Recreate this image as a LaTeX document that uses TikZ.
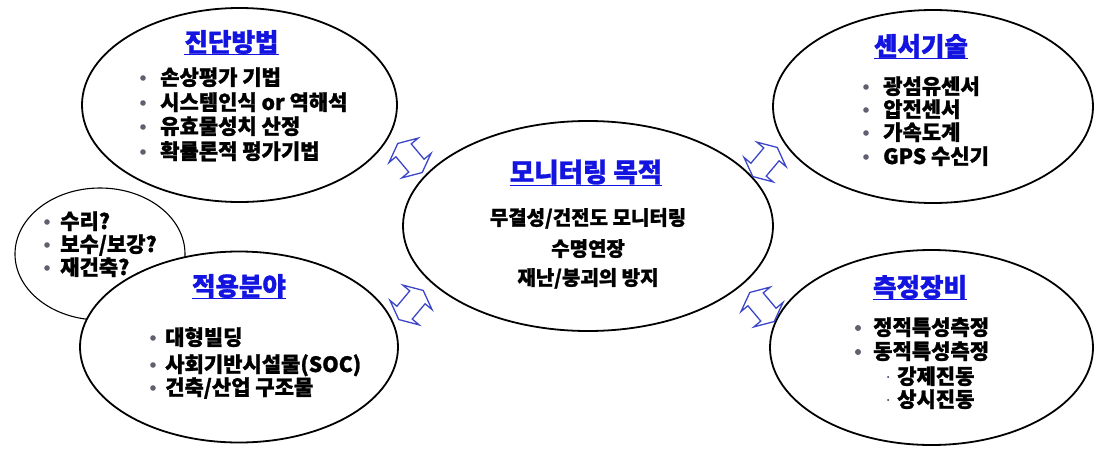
\documentclass[tikz,border=0pt]{standalone}
\usepackage{fontspec}
\setmainfont{Noto Sans CJK KR}[BoldFeatures={FakeBold=1.2}]
\usetikzlibrary{shapes.geometric}
\definecolor{ttlblue}{RGB}{20,20,225}
\definecolor{arrblue}{RGB}{60,70,200}
\definecolor{dotgray}{RGB}{95,95,110}
\definecolor{subdot}{RGB}{40,40,90}
\begin{document}
\begin{tikzpicture}[x=1pt,y=-1pt,
  bigell/.style={draw, ellipse, line width=1.8pt, fill=white, inner sep=0},
  smallell/.style={draw, ellipse, line width=1.1pt, inner sep=0},
  ttl/.style={font=\bfseries\fontsize{25.5pt}{29pt}\selectfont, text=ttlblue, inner sep=0},
  itm/.style={font=\bfseries\fontsize{21pt}{25pt}\selectfont, inner sep=0, anchor=base west},
  ctr/.style={font=\bfseries\fontsize{20pt}{24pt}\selectfont, inner sep=0, anchor=base},
  bulletdot/.style={fill=dotgray},
  arrowline/.style={draw=arrblue, line width=1.3pt, line join=miter},
  uline/.style={draw=ttlblue, line width=1.3pt},
  dblarrow/.pic={\path[arrowline] (-19,0) -- (-10,19) -- (-10,10) -- (10,10) -- (10,19) -- (19,0) -- (10,-19) -- (10,-10) -- (-10,-10) -- (-10,-19) -- cycle;}
]
\useasboundingbox[fill=white] (0,0) rectangle (1109,453);

% ellipses
\node[smallell, minimum width=170pt, minimum height=132pt] (rep) at (100,254) {};
\node[bigell, minimum width=315pt, minimum height=194pt] (diag) at (239.5,105) {};
\node[bigell, minimum width=318pt, minimum height=191pt] (appl) at (239,347) {};
\node[bigell, minimum width=370pt, minimum height=210pt] (goal) at (588,226) {};
\node[bigell, minimum width=320pt, minimum height=193pt] (sens) at (933,106.5) {};
\node[bigell, minimum width=323pt, minimum height=195pt] (meas) at (931.5,347.5) {};

% connectors (double block arrows)
\pic[rotate=-50] at (410,158) {dblarrow};
\pic[rotate=50] at (411,305) {dblarrow};
\pic[rotate=50] at (765,162) {dblarrow};
\pic[rotate=-50] at (762,307) {dblarrow};

% titles
\node[ttl] (t1) at (231.5,42) {진단방법};
\node[ttl] (t2) at (921,46) {센서기술};
\node[ttl] (t3) at (920,287) {측정장비};
\node[ttl] (t4) at (239,286) {적용분야};
\node[ttl, font=\bfseries\fontsize{26.5pt}{30pt}\selectfont] (t5) at (586,172) {모니터링 목적};
\foreach \t in {t1,t2,t3,t4,t5}
  \draw[uline] ([yshift=-0.5pt]\t.south west) -- ([yshift=-0.5pt]\t.south east);

% 진단방법
\foreach \y in {78,103,127,152} \fill[bulletdot] (143,\y) circle (2.8pt);
\node[itm] (d1) at (160,85) {손상평가 기법};
\node[itm] (d2) at (160,110) {시스템인식 or 역해석};
\node[itm] (d3) at (160,134) {유효물성치 산정};
\node[itm] (d4) at (160,159) {확률론적 평가기법};

% 센서기술
\foreach \y in {87,110,133,157} \fill[bulletdot] (866,\y) circle (2.8pt);
\node[itm] (s1) at (883,94) {광섬유센서};
\node[itm] (s2) at (883,117) {압전센서};
\node[itm] (s3) at (883,140) {가속도계};
\node[itm] (s4) at (883,164) {GPS 수신기};

% 측정장비
\foreach \y in {328,352} \fill[bulletdot] (858,\y) circle (3pt);
\node[itm] (m1) at (873,335) {정적특성측정};
\node[itm] (m2) at (873,359) {동적특성측정};
\fill[subdot] (888,377) circle (1pt);
\fill[subdot] (888,400) circle (1pt);
\node[itm] (m3) at (897,384) {강제진동};
\node[itm] (m4) at (897,407) {상시진동};

% 적용분야
\foreach \y in {338,365,388} \fill[bulletdot] (153,\y) circle (2.8pt);
\node[itm] (a1) at (165,345) {대형빌딩};
\node[itm] (a2) at (165,372) {사회기반시설물(SOC)};
\node[itm] (a3) at (165,395) {건축/산업 구조물};

% 보수 ellipse
\foreach \y in {222,245,268} \fill[bulletdot] (47,\y) circle (2.8pt);
\node[itm] (r1) at (60,229) {수리?};
\node[itm] (r2) at (60,252) {보수/보강?};
\node[itm] (r3) at (60,275) {재건축?};

% 모니터링 목적
\node[ctr] (g1) at (588,225) {무결성/건전도 모니터링};
\node[ctr] (g2) at (588,256) {수명연장};
\node[ctr] (g3) at (588,285) {재난/붕괴의 방지};
\end{tikzpicture}
\end{document}
